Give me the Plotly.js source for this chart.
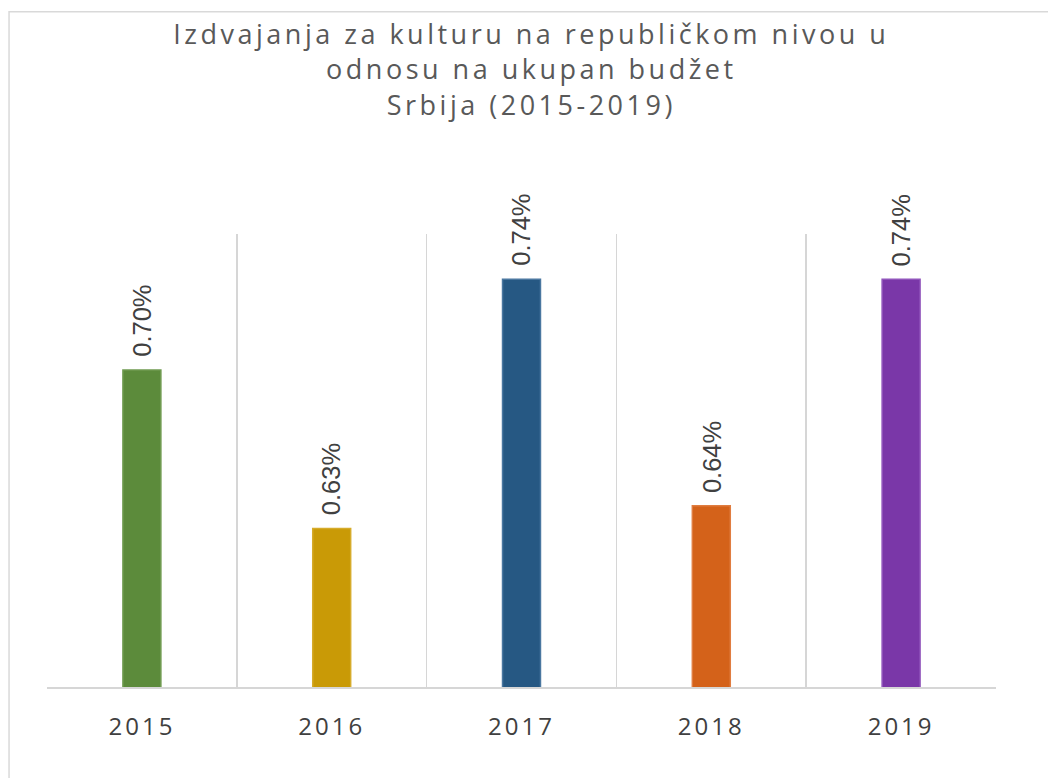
<!DOCTYPE html>
<html>
<head>
<meta charset="utf-8">
<script src="https://cdn.plot.ly/plotly-3.0.1.min.js"></script>
<style>
  html, body { margin: 0; padding: 0; background: #ffffff; }
  .gtitle { letter-spacing: 3.5px; }
  .xtick text { letter-spacing: 3px; }
</style>
</head>
<body>
<div id="chart" style="width:1048px;height:778px;"></div>
<script>
const years = ['2015', '2016', '2017', '2018', '2019'];
const shares = [0.70, 0.63, 0.74, 0.64, 0.74];
const labels = ['0.70%', '0.63%', '0.74%', '0.64%', '0.74%'];
const barColors = ['#5c8b3b', '#c99a06', '#265883', '#d4621a', '#7a37a8'];
const barOutlines = ['#6f9b50', '#d6ab2a', '#4a77a0', '#e07d40', '#9054bb'];
const titleLines = ['Izdvajanja za kulturu na republičkom nivou u', 'odnosu na ukupan budžet', 'Srbija (2015-2019)'];

const trace = {
  type: 'bar',
  x: years,
  y: shares,
  width: 0.2,
  marker: { color: barColors, line: { color: barOutlines, width: 1.5 } },
  hoverinfo: 'x+y'
};

// category axis: annotation x uses the category's serial index
const annotations = years.map((yr, i) => ({
  x: i, y: shares[i], xref: 'x', yref: 'y',
  text: labels[i],
  textangle: -90,
  showarrow: false,
  xanchor: 'center', yanchor: 'bottom',
  yshift: 11,
  font: { family: 'Liberation Sans, Arial, sans-serif', size: 25.5, color: '#404040' }
}));

const layout = {
  width: 1048,
  height: 778,
  margin: { l: 47, r: 52, t: 234, b: 91 },
  paper_bgcolor: '#ffffff',
  plot_bgcolor: '#ffffff',
  showlegend: false,
  title: {
    text: titleLines.join('<br>'),
    font: { family: 'Open Sans, sans-serif', size: 27, color: '#595959' },
    xref: 'container', x: 0.507, xanchor: 'center',
    yref: 'container', y: 0.943, yanchor: 'top'
  },
  xaxis: {
    type: 'category',
    range: [-0.5, years.length - 0.5],
    autorange: false,
    tickson: 'boundaries',
    showgrid: true,
    gridcolor: '#d6d6d6',
    gridwidth: 1.5,
    showline: true,
    linecolor: '#d6d6d6',
    linewidth: 1.5,
    ticks: '',
    ticklabelstandoff: 18,
    tickfont: { family: 'Open Sans, sans-serif', size: 24, color: '#404040' },
    zeroline: false,
    fixedrange: true
  },
  yaxis: {
    range: [0.56, 0.76],
    autorange: false,
    visible: false,
    showgrid: false,
    zeroline: false,
    fixedrange: true
  },
  annotations: annotations,
  shapes: [{
    type: 'rect', xref: 'paper', yref: 'paper',
    x0: -0.04, x1: 1.07, y0: -0.25, y1: 1.4906,
    line: { color: '#d9d9d9', width: 1.5 },
    fillcolor: 'rgba(0,0,0,0)',
    layer: 'below'
  }]
};

Plotly.newPlot('chart', [trace], layout, { displayModeBar: false, staticPlot: true });
</script>
</body>
</html>
